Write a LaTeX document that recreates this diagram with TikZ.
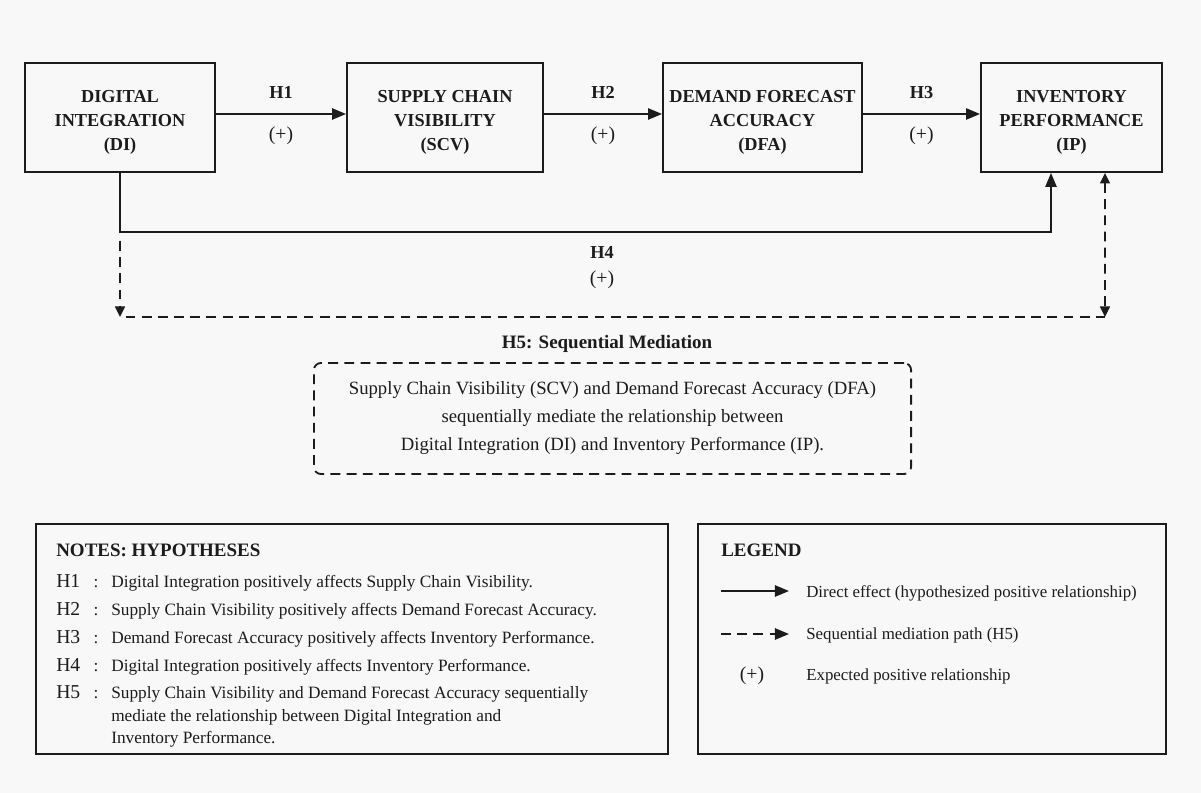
\documentclass[tikz,border=0pt]{standalone}
\usepackage{fontspec}
\setmainfont{Liberation Serif}
\usepackage{xcolor}
\usetikzlibrary{arrows.meta,calc,positioning}
\definecolor{bg}{HTML}{F8F8F8}
\definecolor{ink}{HTML}{1C1C1C}
\tikzset{
  construct/.style={draw=ink, line width=1.3pt, align=center, text=ink, inner sep=0pt,
    minimum height=2.725cm, font=\fontsize{13}{17}\selectfont\bfseries},
  direct/.style={-{Triangle[length=10pt,width=8pt]}, line width=1.3pt, draw=ink},
  medpath/.style={line width=1.3pt, draw=ink, dash pattern=on 7pt off 4.5pt},
  medtip/.style={-{Triangle[length=7.5pt,width=7pt]}},
  hlabel/.style={text=ink, font=\fontsize{13}{15}\selectfont\bfseries},
  plus/.style={text=ink, font=\fontsize{14}{16}\selectfont},
  panel/.style={draw=ink, line width=1.3pt, inner sep=0pt, anchor=north west, minimum height=5.75cm},
  note/.style={text=ink, font=\fontsize{12.3}{15}\selectfont, anchor=base west, inner sep=0pt},
  legtext/.style={note, font=\fontsize{12}{15}\selectfont},
  heading/.style={note, font=\fontsize{13.5}{16}\selectfont\bfseries}
}
\newcommand{\NoteRow}[3]{% baseline, label, text
  \node[note, font=\fontsize{14}{16}\selectfont] (n#2) at (56,#1) {#2};
  \node[note, anchor=base] (c#2) at (96,#1) {:};
  \node[note] (t#2) at (111,#1) {#3};
}

\begin{document}
\begin{tikzpicture}[x=0.025cm, y=-0.025cm]
  \fill[bg] (0,0) rectangle (1201,793);
  \useasboundingbox (0,0) rectangle (1201,793);

  % constructs
  \node[construct, minimum width=4.75cm]  (di)  at (120,117.5)   {\rule{0pt}{16pt}DIGITAL\\INTEGRATION\\(DI)};
  \node[construct, minimum width=4.9cm]   (scv) at (445,117.5)   {\rule{0pt}{16pt}SUPPLY CHAIN\\VISIBILITY\\(SCV)};
  \node[construct, minimum width=4.975cm] (dfa) at (762.5,117.5) {\rule{0pt}{16pt}DEMAND FORECAST\\ACCURACY\\(DFA)};
  \node[construct, minimum width=4.525cm] (ip)  at (1071.5,117.5) {\rule{0pt}{16pt}INVENTORY\\PERFORMANCE\\(IP)};

  \draw[direct] ([yshift=2.5pt]di.east) -- node[hlabel, yshift=15pt]{H1} node[plus, yshift=-15.5pt]{(+)} ([yshift=2.5pt]scv.west);
  \draw[direct] ([yshift=2.5pt]scv.east) -- node[hlabel, yshift=15pt]{H2} node[plus, yshift=-15.5pt]{(+)} ([yshift=2.5pt]dfa.west);
  \draw[direct] ([yshift=2.5pt]dfa.east) -- node[hlabel, yshift=15pt]{H3} node[plus, yshift=-15.5pt]{(+)} ([yshift=2.5pt]ip.west);

  % H4 direct path
  \coordinate (h4y) at (0,232);
  \coordinate (ipin) at ($(ip.south)+(-20.5,0)$);
  \draw[direct] (di.south) -- (di.south |- h4y) -| (ipin);
  \node[hlabel] (h4) at (602,252) {H4};
  \node[plus] (h4plus) at (602,280) {(+)};

  % H5 mediation path
  \coordinate (medstart) at (120,241);
  \coordinate (medL) at (120,317);
  \coordinate (medR) at (1105,317);
  \coordinate (ipmed) at ($(ip.south)+(33.5,0)$);
  \draw[medpath, medtip] (medstart) -- (medL);
  \draw[medpath] ([xshift=4pt]medL) -- (medR);
  \draw[medpath, {Triangle[length=7.5pt,width=7pt]}-{Triangle[length=7.5pt,width=7pt]}] (ipmed) -- (medR);

  \node[text=ink, font=\fontsize{13.5}{16}\selectfont\bfseries] (medtitle) at (607,344) {H5: Sequential Mediation};
  \node[draw=ink, line width=1.3pt, dash pattern=on 7pt off 4.5pt, rounded corners=5pt,
        minimum width=14.925cm, minimum height=2.775cm, align=center, text=ink,
        font=\fontsize{13.3}{19.9}\selectfont] (medbox) at (612.5,418.5)
    {Supply Chain Visibility (SCV) and Demand Forecast Accuracy (DFA)\\
     sequentially mediate the relationship between\\
     Digital Integration (DI) and Inventory Performance (IP).};

  % notes
  \node[panel, minimum width=15.8cm] (notes) at (35,523) {};
  \node[heading] (notestitle) at (56,556) {NOTES: HYPOTHESES};
  \NoteRow{587}{H1}{Digital Integration positively affects Supply Chain Visibility.}
  \NoteRow{615}{H2}{Supply Chain Visibility positively affects Demand Forecast Accuracy.}
  \NoteRow{643}{H3}{Demand Forecast Accuracy positively affects Inventory Performance.}
  \NoteRow{671}{H4}{Digital Integration positively affects Inventory Performance.}
  \NoteRow{698}{H5}{Supply Chain Visibility and Demand Forecast Accuracy sequentially}
  \node[note] (tH5b) at (111,721) {mediate the relationship between Digital Integration and};
  \node[note] (tH5c) at (111,743) {Inventory Performance.};

  % legend
  \node[panel, minimum width=11.7cm] (legend) at (697,523) {};
  \node[heading] (legtitle) at (721,556) {LEGEND};
  \coordinate (ls1) at (721,591);
  \coordinate (le1) at (789,591);
  \draw[direct] (ls1) -- (le1);
  \node[legtext] (leg1) at (806,597) {Direct effect (hypothesized positive relationship)};
  \coordinate (ls2) at (721,634);
  \coordinate (le2) at (789,634);
  \draw[medpath, -{Triangle[length=10pt,width=8pt]}] (ls2) -- (le2);
  \node[legtext] (leg2) at (806,639) {Sequential mediation path (H5)};
  \node[plus, anchor=base] (legplus) at (752,680) {(+)};
  \node[legtext] (leg3) at (806,680) {Expected positive relationship};
\end{tikzpicture}
\end{document}
